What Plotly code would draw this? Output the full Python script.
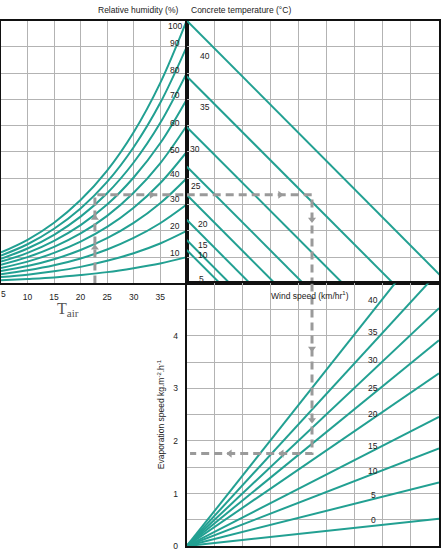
import plotly.graph_objects as go

# ---------------- data ----------------
air_temp = [5, 10, 15, 20, 25, 30, 35, 40]           # deg C
rh_labels = [10, 20, 30, 40, 50, 60, 70, 80, 90, 100]  # %
# vapour-pressure level (0-100 scale of the nomograph) of each RH curve at air_temp
rh_curves = {
    10:  [1.2, 1.7, 2.3, 3.2, 4.3, 5.8, 7.6, 10],
    20:  [2.4, 3.3, 4.6, 6.3, 8.6, 11.5, 15.2, 20],
    30:  [3.5, 5.0, 6.9, 9.5, 12.9, 17.3, 22.9, 30],
    40:  [4.7, 6.6, 9.2, 12.7, 17.2, 23.0, 30.5, 40],
    50:  [5.9, 8.3, 11.6, 15.9, 21.5, 28.8, 38.1, 50],
    60:  [7.1, 10.0, 13.9, 19.0, 25.7, 34.5, 45.7, 60],
    70:  [8.3, 11.6, 16.2, 22.2, 30.0, 40.3, 53.3, 70],
    80:  [9.4, 13.3, 18.5, 25.4, 34.3, 46.0, 61.0, 80],
    90:  [10.6, 14.9, 20.8, 28.5, 38.6, 51.8, 68.6, 90],
    100: [11.8, 16.6, 23.1, 31.7, 42.9, 57.5, 76.2, 100],
}
rh_label_level = [11.7, 21.8, 32.1, 41.5, 50.9, 61.1, 71.7, 81.1, 91.6, 97.8]

concrete_temp = [5, 10, 15, 20, 25, 30, 35, 40]
concrete_start = [12.7, 16.5, 24.2, 33.7, 44.5, 59.5, 78.8, 100]   # level at left edge
concrete_end = [1.19, 1.54, 2.26, 3.15, 4.16, 5.57, 7.37, 9.33]     # x where level reaches 0
concrete_label_x = [0.51, 0.58, 0.58, 0.58, 0.33, 0.30, 0.65, 0.65]
concrete_label_y = [1.5, 10.9, 14.7, 22.6, 37.0, 51.3, 67.2, 86.4]

wind_speed = [0, 5, 10, 15, 20, 25, 30, 35, 40]
evap_at_x9 = [0.52, 1.21, 1.86, 2.46, 3.29, 3.92, 4.53, 5.23, 6.06]  # kg/m2/h at x = 9
wind_label_y = [0.49, 0.98, 1.43, 1.91, 2.51, 3.00, 3.55, 4.08, 4.68]

evap_ticks = [0, 1, 2, 3, 4]
air_ticks = [5, 10, 15, 20, 25, 30, 35]

# worked example (dashed path)
ex_air = 22.7
ex_level = 33.7
ex_x = 4.47
ex_evap = 1.76
ex_x_end = 0.12

# ---------------- styling ----------------
W, H = 445, 556
TEAL = "#22a092"
GRID = "#b3b3b3"
DASH = "#9a9a9a"
TXT = "#222222"
FONT = "Liberation Sans, Arial, sans-serif"

def px(x):
    return x / W

def py(y):
    return 1 - y / H

x_tl = [px(1), px(186.7)]
x_r = [px(186.7), px(439)]
y_top = [py(286), py(20.7)]
y_bot = [py(551), py(286)]

fig = go.Figure()

# RH curves
for rh in rh_labels:
    fig.add_trace(go.Scatter(x=air_temp, y=rh_curves[rh], mode="lines",
                             line=dict(color=TEAL, width=2, shape="spline"),
                             xaxis="x", yaxis="y", hoverinfo="skip"))

# concrete temperature lines
for s, e in zip(concrete_start, concrete_end):
    fig.add_trace(go.Scatter(x=[0, e], y=[s, 0], mode="lines",
                             line=dict(color=TEAL, width=2),
                             xaxis="x2", yaxis="y2", hoverinfo="skip"))

# wind speed lines
for ev in evap_at_x9:
    fig.add_trace(go.Scatter(x=[0, 9], y=[0, ev], mode="lines",
                             line=dict(color=TEAL, width=2),
                             xaxis="x3", yaxis="y3", hoverinfo="skip"))

# dashed example path
dstyle = dict(color=DASH, width=3, dash="8px,5px")
fig.add_trace(go.Scatter(x=[ex_air, ex_air, 40], y=[0, ex_level, ex_level], mode="lines",
                         line=dstyle, xaxis="x", yaxis="y", hoverinfo="skip"))
fig.add_trace(go.Scatter(x=[0, ex_x, ex_x], y=[ex_level, ex_level, 0], mode="lines",
                         line=dstyle, xaxis="x2", yaxis="y2", hoverinfo="skip"))
fig.add_trace(go.Scatter(x=[ex_x, ex_x, ex_x_end], y=[5, ex_evap, ex_evap], mode="lines",
                         line=dstyle, xaxis="x3", yaxis="y3", hoverinfo="skip"))

# arrow heads along the path
mk = dict(color=DASH, size=7)
fig.add_trace(go.Scatter(x=[ex_air, ex_air], y=[13.6, 24.9], mode="markers",
                         marker=dict(symbol="triangle-up", **mk), xaxis="x", yaxis="y"))
fig.add_trace(go.Scatter(x=[33.4], y=[ex_level], mode="markers",
                         marker=dict(symbol="triangle-right", **mk), xaxis="x", yaxis="y"))
fig.add_trace(go.Scatter(x=[3.33], y=[ex_level], mode="markers",
                         marker=dict(symbol="triangle-right", **mk), xaxis="x2", yaxis="y2"))
fig.add_trace(go.Scatter(x=[ex_x], y=[24.3], mode="markers",
                         marker=dict(symbol="triangle-down", **mk), xaxis="x2", yaxis="y2"))
fig.add_trace(go.Scatter(x=[ex_x, ex_x], y=[3.76, 2.4], mode="markers",
                         marker=dict(symbol="triangle-down", **mk), xaxis="x3", yaxis="y3"))
fig.add_trace(go.Scatter(x=[1.54, 3.39], y=[ex_evap, ex_evap], mode="markers",
                         marker=dict(symbol="triangle-left", **mk), xaxis="x3", yaxis="y3"))

ann = []
lab = dict(size=8.5, color=TXT, family=FONT)
for rh, lv in zip(rh_labels, rh_label_level):
    ann.append(dict(x=37.8, y=lv, xref="x", yref="y", text=str(rh), showarrow=False,
                    font=lab, xanchor="center", yanchor="middle"))
for t, lx, ly in zip(concrete_temp, concrete_label_x, concrete_label_y):
    ann.append(dict(x=lx, y=ly, xref="x2", yref="y2", text=str(t), showarrow=False,
                    font=lab, xanchor="center", yanchor="middle"))
for w, ly in zip(wind_speed, wind_label_y):
    ann.append(dict(x=6.65, y=ly, xref="x3", yref="y3", text=str(w), showarrow=False,
                    font=lab, xanchor="center", yanchor="middle"))

def paper_text(x, y, text, **kw):
    d = dict(x=px(x), y=py(y), xref="paper", yref="paper", text=text, showarrow=False,
             xanchor="center", yanchor="middle", font=dict(size=8.5, color=TXT, family=FONT))
    d.update(kw)
    ann.append(d)

paper_text(137.5, 10, "Relative humidity (%)")
paper_text(241, 10, "Concrete temperature (°C)")
paper_text(310, 298, "Wind speed (km/hr<sup>1</sup>)")
paper_text(161, 418, "Evaporation speed kg.m<sup>-2</sup>.h<sup>-1</sup>", textangle=-90)
paper_text(3, 297, str(air_ticks[0]))
paper_text(68, 312, "T<sub>air</sub>",
           font=dict(size=16, color="#555555", family="Liberation Serif, DejaVu Serif, serif"))

frame = dict(showline=True, linecolor="#111111", linewidth=2, mirror=True)
common = dict(showgrid=True, gridcolor=GRID, gridwidth=1.3, zeroline=False, ticks="")

fig.update_layout(
    width=W, height=H, margin=dict(l=0, r=0, t=0, b=0),
    paper_bgcolor="white", plot_bgcolor="white", showlegend=False,
    annotations=ann,
    xaxis=dict(domain=x_tl, range=[5, 40], anchor="y", tickvals=air_ticks[1:],
               ticklabelstandoff=4,
               tickfont=dict(size=8.5, color=TXT, family=FONT),
               **frame, **common),
    yaxis=dict(domain=y_top, range=[0, 100], anchor="x", dtick=10, showticklabels=False,
               **frame, **common),
    xaxis2=dict(domain=x_r, range=[0, 9], anchor="y2", dtick=1, showticklabels=False,
                **frame, **common),
    yaxis2=dict(domain=y_top, range=[0, 100], anchor="x2", dtick=10, showticklabels=False,
                **frame, **common),
    xaxis3=dict(domain=x_r, range=[0, 9], anchor="y3", dtick=1, showticklabels=False,
                **frame, **common),
    yaxis3=dict(domain=y_bot, range=[0, 5], anchor="x3", tickvals=evap_ticks,
                minor=dict(dtick=0.5, tick0=0, showgrid=True, gridcolor=GRID, gridwidth=1.3, ticks=""),
                ticklabelstandoff=5,
                tickfont=dict(size=8.5, color=TXT, family=FONT), **frame, **common),
)

fig.write_html("out.html")
